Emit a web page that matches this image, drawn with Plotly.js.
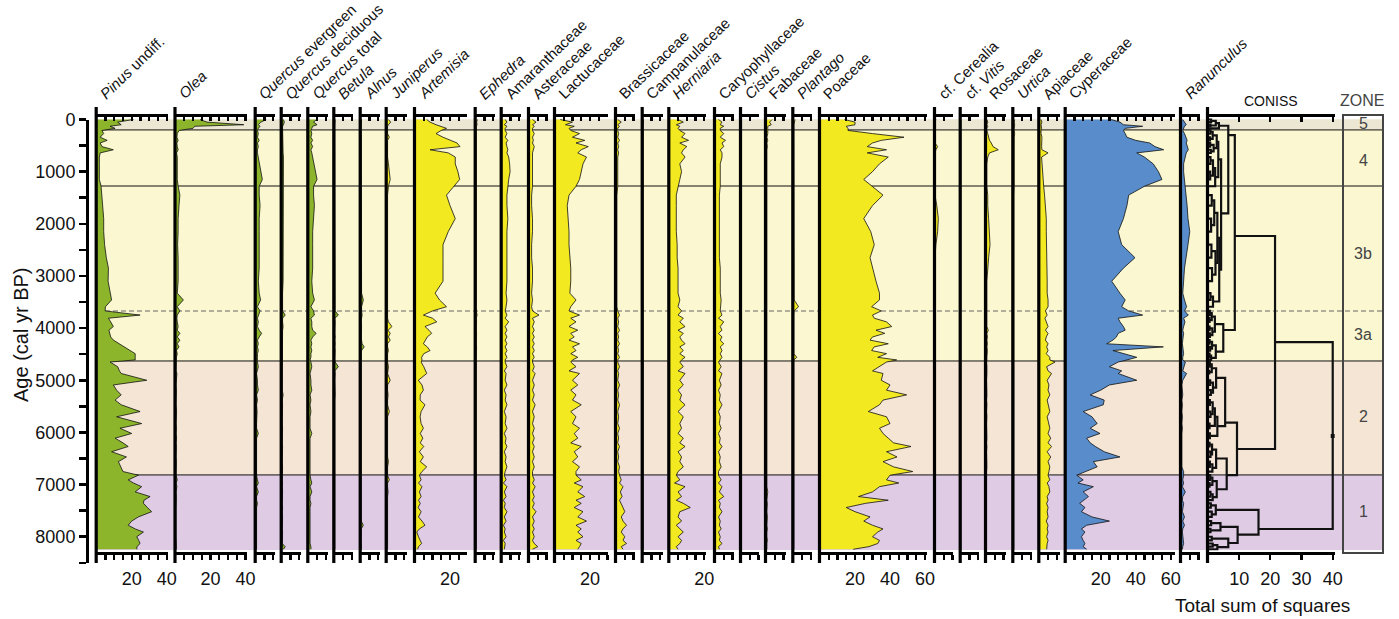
<!DOCTYPE html>
<html><head><meta charset="utf-8">
<script src="https://cdn.plot.ly/plotly-3.0.1.min.js"></script>
<style>body{margin:0;background:#fff}#chart{width:1399px;height:619px}</style>
</head><body><div id="chart"></div>
<script>
// ---------------- DATA ----------------
const ages = [0,50,100,130,170,
 210,270,340,400,450,520,580,640,720,850,1000,1150,1280,
 1450,1650,1900,2150,2400,2650,2850,3100,3330,3460,3590,
 3670,3750,3810,3880,3970,4040,4100,4170,4230,4300,4360,4430,4490,4560,4610,
 4650,4740,4820,4870,5000,5090,5190,5280,5380,5470,5600,5700,5830,5920,6020,6110,6200,6270,6370,6470,6560,6660,6750,
 6820,6910,6970,7040,7140,7230,7300,7360,7440,7520,7620,7700,7780,7850,7910,8000,8070,8130,8190,8240];

const pinus = [21,12,14,7.6,10.5,
 3,4,2,6,2,3,9.5,2,1.5,1.5,1.5,1.5,2.5,
 3,3.5,4,4,4.5,5.5,6.7,6.5,7.6,8.5,5,
 4.8,24.8,6.7,8,9.5,7,7.6,8,9.5,13,16,19,22,22,22,
 7.6,12,13,14,28.6,9.5,11.4,14,10.5,14,24.8,11.4,25.7,13.3,20,10.5,15,18,8.5,17,12.4,14,15,
 23.8,18,21,25.7,22,30.5,27,26.7,29,31.4,23.8,20,18,22,26.7,22.9,24,24.8,23,22.9];
const olea = [14,18,39,11,10,
 2,1,0.8,1.5,0.8,1,1.5,0.6,1,1,1,1,1.5,
 2.5,2,1.5,1.5,1.2,1.5,1.5,1.5,1,4.5,1,
 2.5,1,0.8,1,1.5,1,2.5,1,2.5,1,2,0.5,1,0.5,0.5,
 0.3,0.5,0.3,0.8,0.5,0.3,0.5,0.3,0.5,0.3,0.6,0.3,0.3,0.5,0.3,0.6,0.3,0.5,0.3,0.3,0.5,0.3,0.5,
 0.3,1,0.3,0.8,0.3,0.5,0.3,0.5,0.3,0.3,0.5,0.3,0.3,0.5,0.3,0.3,0.5,0.3,0.5,0.5];
const quercusEvergreen = [6,3,1.5,2.5,1.5,
 1,1.5,1,2,1,1.5,1,1,1.5,2,3,3.8,2,
 2,2.5,2,2,2,2,2,1.5,2,2.8,1,
 2.5,1.5,1,1.5,1,2,3.4,2,1,1.5,1,1.5,1,1,0.8,
 1,1.5,1,0.5,1,1,1.5,0.5,1,0.5,0.8,0.5,0.5,0.5,1.5,0.5,0.5,0.5,0.5,0.5,0.5,0.5,0.5,
 0.5,1,1.5,0.5,1.5,0.5,0.5,1,0.5,0.5,0.5,0.5,0.5,0.5,0.5,0.5,0.5,0.5,0.5,0.5];
const quercusDeciduous = [1,1.5,1,0.5,0.5,
 0.5,0.5,0.5,0.8,0.5,0.8,0.5,0.8,1,1,1.2,1.2,1,
 1,1,0.8,0.8,0.8,0.8,0.8,0.8,0.5,0.5,0.5,
 0.5,2,0.5,0.5,0.8,0.5,0.5,0.5,0.5,0.5,0.3,0.5,0.3,0.5,0.3,
 0.3,0.5,0.3,0.5,0.3,0.5,0.3,0.8,0.3,0.5,0.3,0.5,0.3,0.5,0.3,0.5,0.3,0.5,0.3,0.5,0.3,0.5,0.3,
 0.5,0.3,0.5,0.3,0.5,0.3,0.5,0.3,0.5,0.3,0.5,0.3,0.5,0.3,0.5,0.3,0.5,0.3,2,1];
const quercusTotal = [4.8,3,5,2.5,2,
 1.5,2,1.5,2.5,1.5,2.5,1.5,2,2.5,3,4,5,3,
 3,3.5,3,2.5,2.5,2.5,2.5,2,2.5,3.5,1.5,
 3,3.5,1.5,2,2,2.5,4.5,2.5,1.5,2,1.5,2,1.5,1.5,1,
 1.5,2,1.5,1,1.5,1.5,2,1,1.5,1,1.5,1,1,1,2,1,1,1,1,1,1,1,1,
 1,1.5,2,1,2,1,1,1.5,1,1,1,1,1,1,1,1,1,1,1.5,1.5];
const betula = [0.5,0.3,0.5,0.3,0.3,
 0.3,0.5,0.3,0.3,0.5,0.3,0.3,0.3,0.5,0.3,0.5,0.3,0.3,
 0.3,0.3,0.3,0.3,0.3,0.3,0.3,0.3,0.5,0.3,0.5,
 0.5,2.3,0.3,0.5,0.3,0.5,0.3,0.5,0.3,0.5,0.3,0.5,0.3,0.3,0.3,
 0.5,2.3,0.3,0.5,0.3,0.5,0.3,0.5,0.3,0.3,0.5,0.3,0.3,0.5,0.3,0.3,0.5,0.3,0.3,0.5,0.3,0.3,0.3,
 0.3,0.5,0.3,0.3,0.5,0.3,0.3,0.5,0.3,0.3,0.5,0.3,0.3,0.5,0.3,0.3,0.5,0.3,0.3,0.3];
const alnus = [0.5,0.3,0.5,0.3,0.3,
 0.3,0.3,0.5,0.3,0.3,0.3,0.5,0.3,0.3,0.3,0.3,0.3,0.3,
 0.3,0.3,0.3,0.3,0.3,0.3,0.5,0.3,0.5,1.5,0.5,
 0.5,0.8,0.5,0.3,0.5,0.3,0.5,0.3,0.5,0.8,2,0.5,0.3,0.5,0.3,
 0.3,0.5,0.3,0.3,0.5,0.3,0.3,0.5,0.3,0.3,0.3,0.5,0.3,0.3,0.3,0.5,0.3,0.3,0.3,0.5,0.3,0.3,0.3,
 0.3,0.5,0.3,0.3,0.3,0.5,0.3,0.3,0.3,0.5,0.3,0.3,1.5,0.3,0.3,0.5,0.3,0.3,0.3,0.3];
const juniperus = [1,2.3,1,0.5,0.5,
 0.5,0.5,1.5,0.5,0.5,0.5,0.5,0.5,0.5,1,1.5,2,1,
 0.5,0.5,0.5,0.5,0.5,0.5,0.5,0.5,0.5,0.5,0.5,
 0.5,0.5,0.5,1,3,0.8,2,1,2,0.5,0.5,1,0.5,0.5,0.5,
 0.5,1,0.5,0.5,2,0.5,0.5,0.8,0.5,0.5,1.5,0.5,0.5,0.5,0.8,0.5,0.5,0.8,0.5,0.5,1,0.5,0.5,
 0.5,1.5,0.5,0.5,0.8,0.5,0.5,0.5,0.8,0.5,0.5,0.5,0.8,0.5,0.5,0.5,0.8,0.5,0.5,0.5];
const artemisia = [6.7,8.6,12,15,18,
 15,12,16,20,24,25.7,8.6,19,23,23,24.5,25.5,22,
 18,20,23,19,16,16,16,16,11.5,14,18,
 10,4.8,10,12.4,5.7,8,9.5,7,6,4.8,7,8.6,5,3.8,4,
 3.5,5,6,6.7,1.9,4,4.8,3,2.9,5.7,3.5,2.9,3.5,4.8,3,4.5,3,5,2.5,4.8,3,6.7,4,
 2.5,3.5,2,4,2.5,3.5,2,3,1.8,3.5,2,4,5.7,2.5,1,2,3,3.8,2,1.5];
const ephedra = [1,0.5,0.8,0.3,0.3,
 0.3,0.5,0.3,0.3,0.5,0.3,0.3,0.3,0.3,0.3,0.3,0.3,0.3,
 0.3,0.3,0.3,0.3,0.3,0.3,0.3,0.3,0.3,0.3,0.3,
 0.3,0.8,0.3,0.5,0.3,0.3,0.5,0.3,0.3,0.3,0.5,0.3,0.3,0.3,0.3,
 0.3,0.5,0.3,0.3,0.5,0.3,0.3,0.3,0.5,0.3,0.3,0.3,0.5,0.3,0.3,0.3,0.5,0.3,0.3,0.3,0.5,0.3,0.3,
 0.3,0.5,0.3,0.3,0.5,0.3,0.3,0.3,0.5,0.3,0.3,0.5,0.3,0.3,0.5,0.3,0.3,0.5,0.3,0.3];
const amaranthaceae = [2,3,1.5,3,2,
 2,3,2,3.5,2.5,3,3.5,3,4,4.5,4.8,4,3.5,
 3,3,3.5,3,3,3,3,3,2.5,3,2.5,
 2,3,2,4,2,3,2,3,2,3,2,3,2,3,2,
 2,3,1.5,2.5,2,3,1.5,2.5,2,3,1.5,2.5,2,3,1.5,2.5,2,3,1.5,2.5,2,3,2,
 1.5,2.5,1,3,1.5,2.5,1,2,1.5,3,1.5,2.5,1,2,1.5,2.5,1,2,1.5,1.5];
const asteraceae = [2,4,2,3,2,
 2,3,2,2.5,2,3,2.5,2,2,2,2,2,2,
 1.5,1.5,2,2,1.5,1.5,2,2,1.5,2,1.5,
 2,5.7,2,3,2,3,2,3,2,3,2,3,2,3,2,
 2,3,2,3.5,2,3,2,3,2,3.5,2,3,2,3,2,3,2,3,2,3,2,3,2,
 2,3,2,3.5,2,3,2,3,2,4,2,3,2,3,2,3,2,3,5,2];
const lactucaceae = [3,10,6,11,8,
 9,14,10,17,12,19,15,13,18,16,15,14,12,
 8,7,7.5,8,8,8.5,9,9,8.5,12,9,
 8,14,9,12,8,13,9,11,8,14,10,12,9,13,10,
 9,12,8,14,10,13,9,12,10,15,9,12,10,14,11,13,9,15,11,13,10,14,12,
 12,15,11,16,13,17,12,15,11,16,13,18,12,15,13,16,12,15,14,13];
const brassicaceae = [1,3,1,2,1,
 1,1.5,1,2,1,1.5,1,1.5,1,1,1,1,1,
 0.5,0.5,0.5,0.5,0.5,0.5,0.5,0.5,0.5,0.8,0.5,
 1,2,1,1.5,1,2,1,1.5,1,2,1,1.5,1,2,1,
 1,2,1,1.5,1,2,1,1.5,1,2,1,1.5,1,2,1,1.5,1,2,1,1.5,1,2,1.5,
 2,3,2,4,2.5,3.5,2,3,4,5,3,4,6,4,3,5,4,6,3,4];
const campanulaceae = [0.5,0.3,0.3,0.3,0.3,
 0.3,0.3,0.3,0.5,0.3,0.3,0.3,0.3,0.3,0.3,0.3,0.3,0.3,
 0.3,0.3,0.3,0.3,0.3,0.3,0.3,0.3,0.3,0.3,0.3,
 0.3,0.5,0.3,0.3,0.3,0.5,0.3,0.3,0.3,0.5,0.3,0.3,0.3,0.5,0.3,
 0.3,0.5,0.3,0.3,0.5,0.3,0.3,0.5,0.3,0.3,0.5,0.3,0.3,0.5,0.3,0.3,0.5,0.3,0.3,0.5,0.3,0.3,0.5,
 0.3,0.5,0.3,0.3,0.5,0.3,0.3,0.5,0.3,0.3,0.5,0.3,0.3,0.5,0.3,0.3,0.5,0.3,0.3,0.3];
const herniaria = [5,8,4,6,5,
 6,9,7,11,6,10,8,7,9,6,7,6,5,
 4,4,4,4,4.5,4.5,5,5,5,6,5,
 7,5,8,6,9,5,8,6,7,9,6,8,6,9,7,
 6,8,5,9,6,8,5,7,6,9,5,8,6,7,5,8,6,9,5,7,6,8,5,
 4,6,3,9,5,7,4,8,12,6,5,7,4,6,8,5,7,6,4,5];
const caryophyllaceae = [2,4,3,5,3,
 3,5,3,6,4,5,3,4,4,3,3,3,3,
 2.5,2.5,2.5,2.5,2.5,2.5,3,3,3,3.5,3,
 3,4,2,5,3,4,2,4,3,5,3,4,3,4,3,
 2,3.5,2,4,2.5,3.5,2,3,2.5,4,2,3,2.5,3.5,2,3,2.5,4,2,3,2.5,3.5,2,
 2,3.5,2,4,2.5,5,2,3,2.5,4,2,3,2.5,3.5,2,3,2.5,4,2,2.5];
const cistus = [0.3,0.3,0.5,0.3,0.3,
 0.3,0.3,0.3,0.3,0.3,0.3,0.3,0.3,0.3,0.3,0.3,0.3,0.3,
 0.3,0.3,0.3,0.3,0.3,0.3,0.3,0.3,0.3,0.3,0.3,
 0.3,0.3,0.3,0.5,0.3,0.3,0.3,0.3,0.3,0.5,0.3,0.3,0.3,0.3,0.3,
 0.3,0.3,0.3,0.3,0.5,0.3,0.3,0.3,0.3,0.3,0.3,0.5,0.3,0.3,0.3,0.3,0.3,0.3,0.5,0.3,0.3,0.3,0.3,
 0.3,0.3,0.3,0.5,0.3,0.3,0.3,0.3,0.3,0.3,0.5,0.3,0.3,0.3,0.3,0.3,0.3,0.3,0.3,0.3];
const fabaceae = [3.5,2,3,1,1,
 1,1,0.5,1,0.5,0.8,0.5,0.5,0.5,0.5,0.5,0.5,0.5,
 0.5,0.5,0.5,0.5,0.5,0.5,0.5,0.5,0.5,0.5,0.5,
 0.5,0.8,0.5,0.5,0.8,0.5,0.5,0.5,0.8,0.5,0.5,0.5,0.8,0.5,0.5,
 0.5,0.8,0.5,0.5,0.8,0.5,0.5,0.8,0.5,0.5,0.8,0.5,0.5,0.8,0.5,0.5,0.8,0.5,0.5,0.8,0.5,0.5,0.8,
 0.5,0.8,0.5,0.5,1,0.5,0.5,0.8,0.5,0.5,0.8,0.5,0.5,0.8,0.5,0.5,0.8,0.5,0.5,0.5];
const plantago = [1,0.5,0.3,0.3,0.3,
 0.3,0.3,0.3,0.3,0.3,0.3,0.3,0.3,0.3,0.3,0.3,0.3,0.3,
 0.3,0.3,0.3,0.3,0.3,0.3,0.3,0.3,0.3,0.5,3,
 0.5,0.3,0.3,0.3,0.3,0.3,0.3,0.3,0.3,0.3,0.3,0.3,0.3,2,0.3,
 0.3,0.3,0.3,0.3,0.3,0.3,0.3,0.3,0.3,0.3,0.3,0.3,0.3,0.3,0.3,0.3,0.3,0.3,0.3,0.3,0.3,0.3,0.3,
 0.3,0.3,0.3,0.3,0.3,0.3,0.3,0.3,0.3,0.3,0.3,0.3,0.3,0.3,0.3,0.3,0.3,0.3,0.3,0.3];
const poaceae = [14,20,20,15,16,
 16,30,48,35,30,27,38,27,39,34,30,25,30,
 36,30,25,29,31,28.6,30,32,34,34,29.5,
 35,30,31,38,41,32,37,30,28.6,39,31,29.5,38,33,43.8,
 38,34,30,36,35,40,38,49.5,36,34,27.6,38,40,34,36,39,42,52,38,44,36,42,53,
 40,38,45,34,30,22,39,26,15,20,28.6,25,30,36,33,30,34,33,28,19];
const cerealia = [0.5,0,0,0,0,
 0,0,0,0,0,1.5,0.5,0,0,0,0,0,0,
 0,1,1.9,1.5,0.5,0,0,0,0,0,0,
 0,0,0,0,0,0,0,0,0,0,0,0,0,0,0,
 0,0,0,0,0,0,0,0,0,0,0,0,0,0,0,0,0,0,0,0,0,0,0,
 0,0,0,0,0,0,0,0,0,0,0,0,0,0,0,0,0,0,0,0];
const vitis = [0,0,0,0,0,
 0,0,0,0,0,0,0,0,0,0,0,0,0,
 0,0,0,0,0,0,0,0,0,0,0,
 0,0.3,0,0,0,0,0,0,0,0,0,0,0,0,0,
 0,0,0,0,0,0,0,0,0,0,0,0,0,0,0,0,0,0,0,0,0,0,0,
 0,0,0,0,0,0,0,0,0,0,0,0,0,0,0,0,0,0,0,0];
const rosaceae = [0.5,1,0.5,1,0.5,
 0.5,1,1.5,2,3,4,7,2,1,0.5,0.5,0.5,0.5,
 1,1,1.5,2,2.3,1.5,1,0.5,0.5,0.5,0.5,
 0.5,0.8,0.5,0.8,0.5,1.3,0.5,0.8,0.5,0.8,0.5,0.8,0.5,0.5,0.5,
 0.3,0.5,0.3,0.5,0.3,0.5,0.3,0.5,0.3,0.5,0.3,0.5,0.3,0.5,0.3,0.5,0.3,0.5,0.3,0.5,0.3,0.5,0.3,
 0.3,0.5,0.3,0.5,0.3,0.5,0.3,0.5,0.3,0.5,0.3,0.5,0.3,0.5,0.3,0.5,0.3,0.5,0.3,0.3];
const urtica = [0.8,0.5,0.8,0.5,0.5,
 0.5,0.8,0.5,0.5,0.8,0.5,0.5,0.5,0.5,0.5,0.5,0.5,0.5,
 0.3,0.3,0.3,0.3,0.3,0.3,0.3,0.3,0.3,0.3,0.3,
 0.5,0.3,0.5,0.3,0.5,0.3,0.5,0.3,0.5,0.3,0.5,0.3,0.5,0.3,0.5,
 0.5,0.3,0.5,0.3,0.5,0.3,0.5,0.3,0.5,0.3,0.5,0.3,0.5,0.3,0.5,0.3,0.5,0.3,0.5,0.3,0.5,0.3,0.5,
 0.5,0.3,0.5,0.3,0.5,0.3,0.5,0.3,0.5,0.3,0.5,0.3,0.5,0.3,0.5,0.3,0.5,0.3,0.5,0.3];
const apiaceae = [1,1.5,1,1.3,1.3,
 1,1,1.5,1.3,1.3,1.3,1.5,5,1.3,1.5,1.8,2,2.5,
 3,3.5,4,4,4.2,4.5,4.5,4.5,4.5,5,5,
 3.5,4.5,3.2,4,5,3.5,5,4,3.5,5,4.2,5,4,6,6,
 9,4.2,5,7,4.5,5.5,5,6,4.5,5,6,4.5,5.5,6,5,6.5,5,7,4.5,6.5,5,6,5.5,
 5,6,4.5,5.5,6,4.5,5,4.2,5,4.5,5,4,5,4.5,5,4.2,5,4.5,4.2,4.2];
const cyperaceae = [26,31,33,44,34,
 33,34,35,40,48,51,56,40.6,45,50,53,55,45,
 36,35,33,30,32,39.6,33,26.3,31,34,32,
 36,44,30,31,33,34,30,29,27,23.4,55.8,27,33,40.6,35,
 30,25,32,30,40.6,25,20,14,22,21.5,10,15,18,14,19.6,12,14,17,22,31,15.8,18,12,
 6.3,10,7,15.8,10,13,10,8,11,9,15,25,12,9,11,9,10,11,10,12];
const ranunculus = [1,2,3,2,1.5,
 1,2,3,3.5,3,3.8,4.2,3,2.5,1.5,1.5,2,2.5,
 3,3.5,4,5,4,3,2,1.5,1,2,3.2,
 2,4.2,1.5,2.3,1.5,1,1.5,1,1,0.8,1,1,1.5,1,1,
 2.5,1.5,1,3.2,1,0.5,0.8,1,0.5,0.8,0.5,0.8,0.5,0.8,0.5,0.5,0.8,0.5,0.5,0.8,0.5,0.5,1.5,
 1.5,1,1.5,0.8,2.5,1,0.8,1.5,1,0.8,2,1,2,1,0.8,1,1,1.5,1,0.8];

const taxonNames = ['<i>Pinus</i> undiff.','<i>Olea</i>','<i>Quercus</i> evergreen','<i>Quercus</i> deciduous','<i>Quercus</i> total','<i>Betula</i>','<i>Alnus</i>','<i>Juniperus</i>','<i>Artemisia</i>','<i>Ephedra</i>','Amaranthaceae','Asteraceae','Lactucaceae','Brassicaceae','Campanulaceae','<i>Herniaria</i>','Caryophyllaceae','<i>Cistus</i>','Fabaceae','<i>Plantago</i>','Poaceae','cf. Cerealia','cf. <i>Vitis</i>','Rosaceae','<i>Urtica</i>','Apiaceae','Cyperaceae','<i>Ranunculus</i>'];
const taxonValues = [pinus,olea,quercusEvergreen,quercusDeciduous,quercusTotal,betula,alnus,juniperus,artemisia,ephedra,amaranthaceae,asteraceae,lactucaceae,brassicaceae,campanulaceae,herniaria,caryophyllaceae,cistus,fabaceae,plantago,poaceae,cerealia,vitis,rosaceae,urtica,apiaceae,cyperaceae,ranunculus];
const taxonGroup = ['tree','tree','tree','tree','tree','tree','tree','herb','herb','herb','herb','herb','herb','herb','herb','herb','herb','herb','herb','herb','herb','herb','herb','herb','herb','herb','wet','wet'];
const labelledTicks = [[20,40],[20,40],[],[],[],[],[],[],[20],[],[],[],[20],[],[],[20],[],[],[],[],[20,40,60],[],[],[],[],[],[20,40,60],[]];

const zoneNames = ['5','4','3b','3a','2','1'];
const zoneTop = [-5,200,1275,3672,4630,6815];
const zoneBottom = [200,1275,3672,4630,6815,8255];
const zoneLabelAge = [70,780,2560,4130,5700,7520];
const coniss = [10,20,30,40];
// dendrogram links: [ageA, heightA, ageB, heightB, mergeHeight]
const dendroLinks = [
 [0,0,50,0,1.0],[100,0,130,0,0.8],[25,1.0,115,0.8,2.5],[70,2.5,170,0,3.5],
 [210,0,270,0,0.8],[340,0,400,0,0.6],[240,0.8,370,0.6,1.5],[450,0,520,0,0.7],[580,0,640,0,0.9],
 [485,0.7,610,0.9,1.8],[720,0,850,0,0.8],[1000,0,1150,0,0.7],[785,0.8,1075,0.7,1.6],[930,1.6,1280,0,2.3],
 [305,1.5,548,1.8,2.8],[427,2.8,1105,2.3,3.3],
 [1450,0,1650,0,1.2],[1900,0,2150,0,1.0],[1550,1.2,2025,1.0,2.0],[2400,0,2650,0,1.1],[2850,0,3100,0,1.3],
 [2525,1.1,2975,1.3,2.4],[1790,2.0,2750,2.4,3.0],[3330,0,3460,0,0.8],[3395,0.8,3590,0,1.6],[2270,3.0,3490,1.6,3.6],
 [766,3.3,2880,3.6,4.2],[120,3.5,1800,4.2,6.5],
 [3670,0,3750,0,0.6],[3810,0,3880,0,0.5],[3710,0.6,3845,0.5,1.2],[3970,0,4040,0,0.5],[4100,0,4170,0,0.6],
 [4005,0.5,4135,0.6,1.4],[3780,1.2,4070,1.4,2.2],[4230,0,4300,0,0.5],[4360,0,4430,0,0.7],[4265,0.5,4395,0.7,1.3],
 [4490,0,4560,0,0.5],[4525,0.5,4610,0,1.0],[4330,1.3,4570,1.0,2.5],[3925,2.2,4450,2.5,4.9],
 [300,6.5,4036,4.9,8.6],
 [4650,0,4740,0,0.6],[4820,0,4870,0,0.4],[4695,0.6,4845,0.4,1.2],[5000,0,5090,0,0.7],[5190,0,5280,0,0.9],
 [5045,0.7,5235,0.9,1.6],[4770,1.2,5140,1.6,2.6],[5380,0,5470,0,0.6],[5600,0,5700,0,0.8],[5425,0.6,5650,0.8,1.5],
 [5830,0,5920,0,0.5],[5540,1.5,5875,0.5,2.2],[6020,0,6110,0,0.6],[5700,2.2,6065,0.6,3.0],[4955,2.6,5880,3.0,5.5],
 [6200,0,6270,0,0.5],[6370,0,6470,0,0.8],[6235,0.5,6420,0.8,1.3],[6560,0,6660,0,0.6],[6610,0.6,6750,0,1.4],
 [6330,1.3,6680,1.4,2.6],
 [6820,0,6910,0,0.7],[6970,0,7040,0,0.5],[6865,0.7,7005,0.5,1.4],[7140,0,7230,0,0.8],[7185,0.8,7300,0,1.5],
 [6935,1.4,7240,1.5,2.8],[6500,2.6,7090,2.8,6.0],
 [5813,5.5,6817,6.0,9.3],[2234,8.6,6318,9.3,21.5],
 [7360,0,7440,0,0.9],[7520,0,7620,0,1.2],[7400,0.9,7570,1.2,2.5],[7700,0,7780,0,1.0],[7850,0,7910,0,0.8],
 [7740,1.0,7880,0.8,4.0],[8000,0,8070,0,1.2],[8130,0,8190,0,1.5],[8160,1.5,8240,0,3.0],[8035,1.2,8200,3.0,6.5],
 [7810,4.0,8120,6.5,9.5],[7485,2.5,7960,9.5,16.2],
 [4267,21.5,7852,16.2,40]
];
const rootMarker = {h:[40], age:[6070]};

// ---------------- LAYOUT GEOMETRY ----------------
const W = 1399, PT = 100, PB = 580, PH = PB - PT;
const panelLeft = [96.7,175.5,255.7,281.7,308.3,334.3,360.7,386.7,415,475.7,501.7,529,555,616,642.7,669.3,715,741,766,793.3,820,935,960.7,986,1013.3,1039.3,1065.7,1181];
const panelMax = [40.7,40.9,11,11,11.3,10.7,11,11.4,29.7,11,11,11,30.3,11,11.4,21,10.6,10.5,11.4,10.7,61,10.5,10.5,11.4,10.7,11.8,62.4,10.9];
const PXPER = 1.75;
const fillColor = {tree:'#8db52b', herb:'#f2e921', wet:'#588cca'};
const FONT = 'Liberation Sans, Arial, Helvetica, sans-serif';
const py = p => (PB - p) / PH;

const layout = {
  width: W, height: 619, showlegend: false,
  margin: {l:0, r:0, t:PT, b:619-PB},
  paper_bgcolor: '#fff', plot_bgcolor: 'rgba(0,0,0,0)',
  font: {family: FONT, color: '#111'},
  yaxis: {domain:[py(551.7), py(116.7)], range:[8287,-53.7], visible:false, showgrid:false, zeroline:false},
  yaxis2: {domain:[py(562.8), py(119.5)], range:[8500,0], anchor:'free', position:87/W, side:'left',
    showline:true, linewidth:3, linecolor:'#000', ticks:'outside', ticklen:7, tickwidth:2.5, tickcolor:'#000',
    tickvals:[], ticktext:[], tickfont:{size:18, family:FONT, color:'#111'}, showgrid:false, zeroline:false},
  shapes: [], annotations: []
};
for (let a=0;a<=8500;a+=500){ layout.yaxis2.tickvals.push(a); layout.yaxis2.ticktext.push(a%1000===0? String(a):''); }

const traces = [];
traces.push({x:[null], y:[null], xaxis:'x', yaxis:'y2', mode:'lines', hoverinfo:'skip'});

// backgrounds
const zoneFill = ['#ece7d3','#fbf7d1','#fbf7d1','#fbf7d1','#f4e5d4','#dfcce4'];
zoneNames.forEach((z,i)=>{
  layout.shapes.push({type:'rect', layer:'below', xref:'paper', yref:'y', x0:97/W, x1:1383/W, y0:zoneTop[i], y1:zoneBottom[i], fillcolor:zoneFill[i], line:{width:0}});
});
zoneTop.slice(1).forEach((a,i)=>{
  const dashed = zoneNames[i+1]==='3a';
  layout.shapes.push({type:'line', layer:'below', xref:'paper', yref:'y', x0:97/W, x1:1383/W, y0:a, y1:a,
    line:{color: dashed? '#666':'#111', width:1, dash: dashed? '5px,3px':'solid'}});
});

function addPanel(idx, left, maxv, labelled, step, pxper){
  const nb = 2*idx+1, nt = 2*idx+2;
  const idB = nb===1? 'x' : 'x'+nb;
  const idT = 'x'+nt;
  const keyB = nb===1? 'xaxis' : 'xaxis'+nb;
  const keyT = 'xaxis'+nt;
  const dom = [left/W, (left + maxv*pxper)/W];
  const tv = []; for (let t=step; t<=maxv+0.01; t+=step) tv.push(t);
  layout[keyB] = {domain:dom, range:[0,maxv], anchor:'y', side:'bottom', showline:true, linewidth:3, linecolor:'#000',
    ticks:'outside', ticklen:5, tickwidth:2.2, tickcolor:'#000', tickvals:tv,
    ticktext: tv.map(t=> labelled.includes(t)? String(t):''), tickfont:{size:18, family:FONT, color:'#111'},
    ticklabelstandoff:4, showgrid:false, zeroline:false, fixedrange:true};
  layout[keyT] = {domain:dom, range:[0,maxv], anchor:'y', overlaying:idB, side:'top', showline:true, linewidth:3, linecolor:'#000',
    ticks:'inside', ticklen:4, tickwidth:2.2, tickcolor:'#000', tickvals:tv, showticklabels:false,
    showgrid:false, zeroline:false, fixedrange:true};
  traces.push({x:[null], y:[null], xaxis:idT, yaxis:'y', mode:'lines', hoverinfo:'skip'});
  layout.shapes.push({type:'line', layer:'above', xref:'paper', yref:'paper', x0:(left-0.5)/W, x1:(left-0.5)/W, y0:py(563), y1:py(107), line:{color:'#000', width:3.2}});
  return {b:idB, keyB:keyB, keyT:keyT};
}

taxonNames.forEach((name,i)=>{
  const ax = addPanel(i, panelLeft[i], panelMax[i], labelledTicks[i], 5, PXPER);
  traces.push({x:taxonValues[i], y:ages, xaxis:ax.b, yaxis:'y', mode:'lines', fill:'tozerox',
    fillcolor: fillColor[taxonGroup[i]], line:{color:'#111', width:0.8}, hoverinfo:'skip'});
  layout.annotations.push({xref:'paper', yref:'paper', x:(panelLeft[i]-3)/W, y:py(105), xanchor:'left', yanchor:'bottom',
    text:name, textangle:-44, showarrow:false, font:{size:15, family:FONT, color:'#111'}});
});

// CONISS panel
const ci = taxonNames.length;
const cax = addPanel(ci, 1208, 40.7, coniss, 10, 3.118);
layout[cax.keyB].tickvals = coniss; layout[cax.keyB].ticktext = coniss.map(String);
layout[cax.keyT].tickvals = [0].concat(coniss); layout[cax.keyT].ticklen = 5;
const dx = [], dy = [];
dendroLinks.forEach(l=>{
  dx.push(l[1], l[4], l[4], l[3], null);
  dy.push(l[0], l[0], l[2], l[2], null);
});
traces.push({x:dx, y:dy, xaxis:cax.b, yaxis:'y', mode:'lines', line:{color:'#111', width:2.2}, hoverinfo:'skip'});
traces.push({x:rootMarker.h, y:rootMarker.age, xaxis:cax.b, yaxis:'y', mode:'markers', marker:{symbol:'square', size:4, color:'#111'}, hoverinfo:'skip'});

// zone box and labels
layout.shapes.push({type:'rect', layer:'above', xref:'paper', yref:'paper', x0:1343/W, x1:1383/W, y0:py(553), y1:py(115), line:{color:'#444', width:2}, fillcolor:'rgba(0,0,0,0)'});
zoneNames.forEach((z,i)=>{
  layout.annotations.push({xref:'paper', yref:'y', x:1363/W, y:zoneLabelAge[i], text:z, showarrow:false, xanchor:'center', yanchor:'middle', font:{size:16, family:FONT, color:'#444'}});
});
layout.annotations.push({xref:'paper', yref:'paper', x:1271/W, y:py(101), text:'CONISS', showarrow:false, xanchor:'center', yanchor:'middle', font:{size:14, family:FONT, color:'#111'}});
layout.annotations.push({xref:'paper', yref:'paper', x:1362/W, y:py(100), text:'ZONE', showarrow:false, xanchor:'center', yanchor:'middle', font:{size:16, family:FONT, color:'#444'}});
layout.annotations.push({xref:'paper', yref:'paper', x:1262/W, y:py(605), text:'Total sum of squares', showarrow:false, xanchor:'center', yanchor:'middle', font:{size:19, family:FONT, color:'#111'}});
layout.annotations.push({xref:'paper', yref:'paper', x:21/W, y:py(335), text:'Age (cal yr BP)', textangle:-90, showarrow:false, xanchor:'center', yanchor:'middle', font:{size:20, family:FONT, color:'#111'}});

Plotly.newPlot('chart', traces, layout, {staticPlot:true});
</script>
</body></html>
